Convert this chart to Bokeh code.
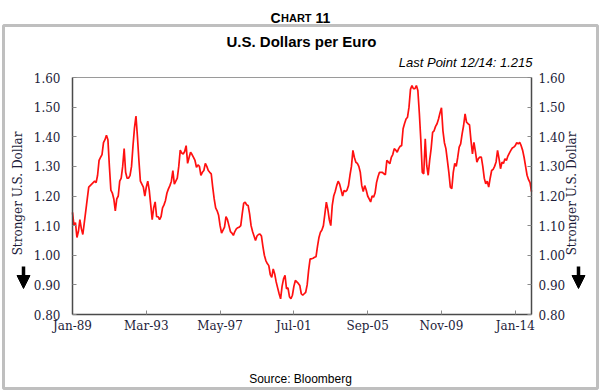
import numpy as np
import pandas as pd
from bokeh.plotting import figure
from bokeh.models import (Range1d, LinearAxis, FixedTicker, NumeralTickFormatter,
                          Label, PolyAnnotation, Arrow, NormalHead)
from bokeh.embed import file_html
from bokeh.resources import INLINE

# ---------------- data (monthly, U.S. dollars per euro) ----------------
y1989 = [1.145, 1.10, 1.11, 1.06, 1.08, 1.12, 1.09, 1.07, 1.11, 1.15, 1.19, 1.23]
y1990 = [1.235, 1.24, 1.245, 1.25, 1.245, 1.27, 1.32, 1.33, 1.34, 1.38, 1.39, 1.405]
y1991 = [1.39, 1.30, 1.22, 1.21, 1.19, 1.15, 1.19, 1.20, 1.25, 1.26, 1.30, 1.36]
y1992 = [1.28, 1.26, 1.26, 1.27, 1.30, 1.37, 1.43, 1.47, 1.40, 1.32, 1.25, 1.24]
y1993 = [1.23, 1.20, 1.23, 1.25, 1.22, 1.17, 1.12, 1.16, 1.18, 1.13, 1.13, 1.12]
y1994 = [1.13, 1.16, 1.17, 1.185, 1.21, 1.224, 1.235, 1.25, 1.286, 1.24, 1.25, 1.26]
y1995 = [1.30, 1.355, 1.345, 1.342, 1.35, 1.37, 1.31, 1.33, 1.348, 1.34, 1.33, 1.32]
y1996 = [1.297, 1.305, 1.30, 1.27, 1.28, 1.286, 1.31, 1.30, 1.286, 1.28, 1.275, 1.23]
y1997 = [1.19, 1.16, 1.15, 1.135, 1.10, 1.075, 1.085, 1.095, 1.13, 1.12, 1.10, 1.08]
y1998 = [1.075, 1.067, 1.08, 1.089, 1.093, 1.095, 1.10, 1.14, 1.176, 1.179, 1.17, 1.168]
y1999 = [1.14, 1.10, 1.08, 1.065, 1.05, 1.065, 1.07, 1.072, 1.065, 1.03, 1.00, 0.982]
y2000 = [0.972, 0.965, 0.935, 0.925, 0.954, 0.937, 0.91, 0.89, 0.87, 0.853, 0.895, 0.92]
y2001 = [0.932, 0.887, 0.89, 0.86, 0.853, 0.865, 0.895, 0.915, 0.91, 0.905, 0.898, 0.87]
y2002 = [0.865, 0.87, 0.875, 0.90, 0.95, 0.988, 0.988, 0.99, 0.993, 0.995, 1.03, 1.06]
y2003 = [1.078, 1.085, 1.10, 1.14, 1.179, 1.155, 1.12, 1.10, 1.168, 1.20, 1.215, 1.235]
y2004 = [1.25, 1.24, 1.22, 1.20, 1.219, 1.215, 1.22, 1.235, 1.27, 1.30, 1.354, 1.33]
y2005 = [1.314, 1.31, 1.30, 1.28, 1.235, 1.215, 1.235, 1.22, 1.20, 1.19, 1.18, 1.20]
y2006 = [1.196, 1.21, 1.245, 1.265, 1.28, 1.28, 1.28, 1.275, 1.272, 1.32, 1.315, 1.309]
y2007 = [1.33, 1.34, 1.36, 1.355, 1.348, 1.36, 1.368, 1.37, 1.427, 1.445, 1.46, 1.466]
y2008 = [1.50, 1.56, 1.573, 1.562, 1.562, 1.573, 1.556, 1.48, 1.39, 1.28, 1.275, 1.393]
y2009 = [1.303, 1.27, 1.32, 1.36, 1.415, 1.42, 1.435, 1.444, 1.46, 1.48, 1.498, 1.42]
y2010 = [1.38, 1.36, 1.32, 1.28, 1.23, 1.225, 1.28, 1.31, 1.30, 1.33, 1.365, 1.376]
y2011 = [1.41, 1.438, 1.477, 1.449, 1.444, 1.44, 1.387, 1.342, 1.381, 1.35, 1.314, 1.326]
y2012 = [1.331, 1.331, 1.30, 1.26, 1.241, 1.25, 1.23, 1.26, 1.286, 1.29, 1.30, 1.315]
y2013 = [1.354, 1.326, 1.292, 1.314, 1.31, 1.326, 1.32, 1.335, 1.345, 1.354, 1.362, 1.365]
y2014 = [1.37, 1.38, 1.376, 1.381, 1.37, 1.354, 1.33, 1.30, 1.27, 1.255, 1.245, 1.215]

tick_dates = ["1989-01-01", "1993-03-01", "1997-05-01", "2001-07-01",
              "2005-09-01", "2009-11-01", "2014-01-01"]
y_ticks = [0.80, 0.90, 1.00, 1.10, 1.20, 1.30, 1.40, 1.50, 1.60]
Y_MIN, Y_MAX = 0.80, 1.60

usd_per_eur = (y1989 + y1990 + y1991 + y1992 + y1993 + y1994 + y1995 + y1996 +
               y1997 + y1998 + y1999 + y2000 + y2001 + y2002 + y2003 + y2004 +
               y2005 + y2006 + y2007 + y2008 + y2009 + y2010 + y2011 + y2012 +
               y2013 + y2014)
months = pd.date_range("1989-01-01", periods=len(usd_per_eur), freq="MS")
xi = np.arange(len(months))
X_MIN, X_MAX = 0, len(xi) - 1
tick_idx = [int(np.where(months == pd.Timestamp(d))[0][0]) for d in tick_dates]
tick_lbl = {i: months[i].strftime("%b-%y") for i in tick_idx}

# ---------------- layout (page pixels) ----------------
W, H = 600, 392
PL, PR, PT, PB = 72, 531, 77, 314   # plotting area

def dx(px):
    return X_MIN + (px - PL) * (X_MAX - X_MIN) / (PR - PL)

def dy(py):
    return Y_MIN + (PB - py) * (Y_MAX - Y_MIN) / (PB - PT)

p = figure(width=W, height=H, output_backend="svg", toolbar_location=None, tools="",
           x_range=Range1d(dx(0), dx(W)), y_range=Range1d(dy(H), dy(0)),
           min_border=0, min_border_left=0, min_border_right=0,
           min_border_top=0, min_border_bottom=0)
p.grid.visible = False
p.outline_line_color = None
p.background_fill_color = "white"
p.border_fill_color = "white"

TICK_FONT = "DejaVu Serif"
TICK_COLOR = "#1d1d3a"

def style_axis(ax, standoff):
    ax.axis_line_color = "#4a4a4a"
    ax.axis_line_width = 1.5
    ax.major_tick_in = 4
    ax.major_tick_out = 0
    ax.major_tick_line_color = "#8a8a8a"
    ax.minor_tick_line_color = None
    ax.major_label_text_font = TICK_FONT
    ax.major_label_text_font_size = "12px"
    ax.major_label_text_color = TICK_COLOR
    ax.major_label_standoff = standoff

yl = p.yaxis[0]
yl.ticker = FixedTicker(ticks=y_ticks)
yl.formatter = NumeralTickFormatter(format="0.00")
yl.fixed_location = X_MIN
yl.bounds = (Y_MIN, Y_MAX)
style_axis(yl, 12)

yr = LinearAxis(ticker=FixedTicker(ticks=y_ticks),
                formatter=NumeralTickFormatter(format="0.00"),
                fixed_location=X_MAX, bounds=(Y_MIN, Y_MAX))
style_axis(yr, 7)
p.add_layout(yr, "right")

xa = p.xaxis[0]
xa.ticker = FixedTicker(ticks=tick_idx)
xa.major_label_overrides = tick_lbl
xa.fixed_location = Y_MIN
xa.bounds = (X_MIN, X_MAX)
style_axis(xa, 4)

xt = LinearAxis(ticker=FixedTicker(ticks=[]), fixed_location=Y_MAX,
                bounds=(X_MIN, X_MAX))
xt.axis_line_color = "#9a9a9a"
xt.axis_line_width = 1.2
xt.major_tick_line_color = None
xt.minor_tick_line_color = None
xt.major_label_text_font_size = "0px"
p.add_layout(xt, "above")

p.line(xi, usd_per_eur, line_color="#ff1010", line_width=1.7)

# outer box
bx = [dx(3), dx(597), dx(597), dx(3)]
by = [dy(25), dy(25), dy(388), dy(388)]
p.add_layout(PolyAnnotation(xs=bx, ys=by, fill_alpha=0, fill_color=None,
                            line_color="#2a2a2a", line_width=3))

def lab(px, py, text, **kw):
    d = dict(text_font="Liberation Sans", text_color="black",
             text_align="center", text_baseline="middle")
    d.update(kw)
    p.add_layout(Label(x=dx(px), y=dy(py), text=text, **d))

# "CHART 11" in small caps
lab(270, 17, "C", text_align="left", text_baseline="alphabetic",
    text_font_size="14px", text_font_style="bold")
lab(280.5, 17, "HART", text_align="left", text_baseline="alphabetic",
    text_font_size="11px", text_font_style="bold")
lab(315, 17, "11", text_align="left", text_baseline="alphabetic",
    text_font_size="14px", text_font_style="bold")

lab(301, 41, "U.S. Dollars per Euro", text_font_size="15px", text_font_style="bold")
lab(532, 62, "Last Point 12/14: %.3f" % usd_per_eur[-1], text_align="right",
    text_font_size="13px", text_font_style="italic")
lab(300, 378, "Source: Bloomberg", text_font_size="12px")

lab(17, 193, "Stronger U.S. Dollar", angle=np.pi / 2, text_font=TICK_FONT,
    text_font_size="12px", text_color=TICK_COLOR)
lab(571, 193, "Stronger U.S. Dollar", angle=np.pi / 2, text_font=TICK_FONT,
    text_font_size="12px", text_color=TICK_COLOR)

for ax_px in (23, 578):
    p.add_layout(Arrow(end=NormalHead(size=13, fill_color="black", line_color="black"),
                       x_start=dx(ax_px), y_start=dy(266),
                       x_end=dx(ax_px), y_end=dy(288),
                       line_color="black", line_width=3.5))

open("out.html", "w").write(file_html(p, INLINE))
